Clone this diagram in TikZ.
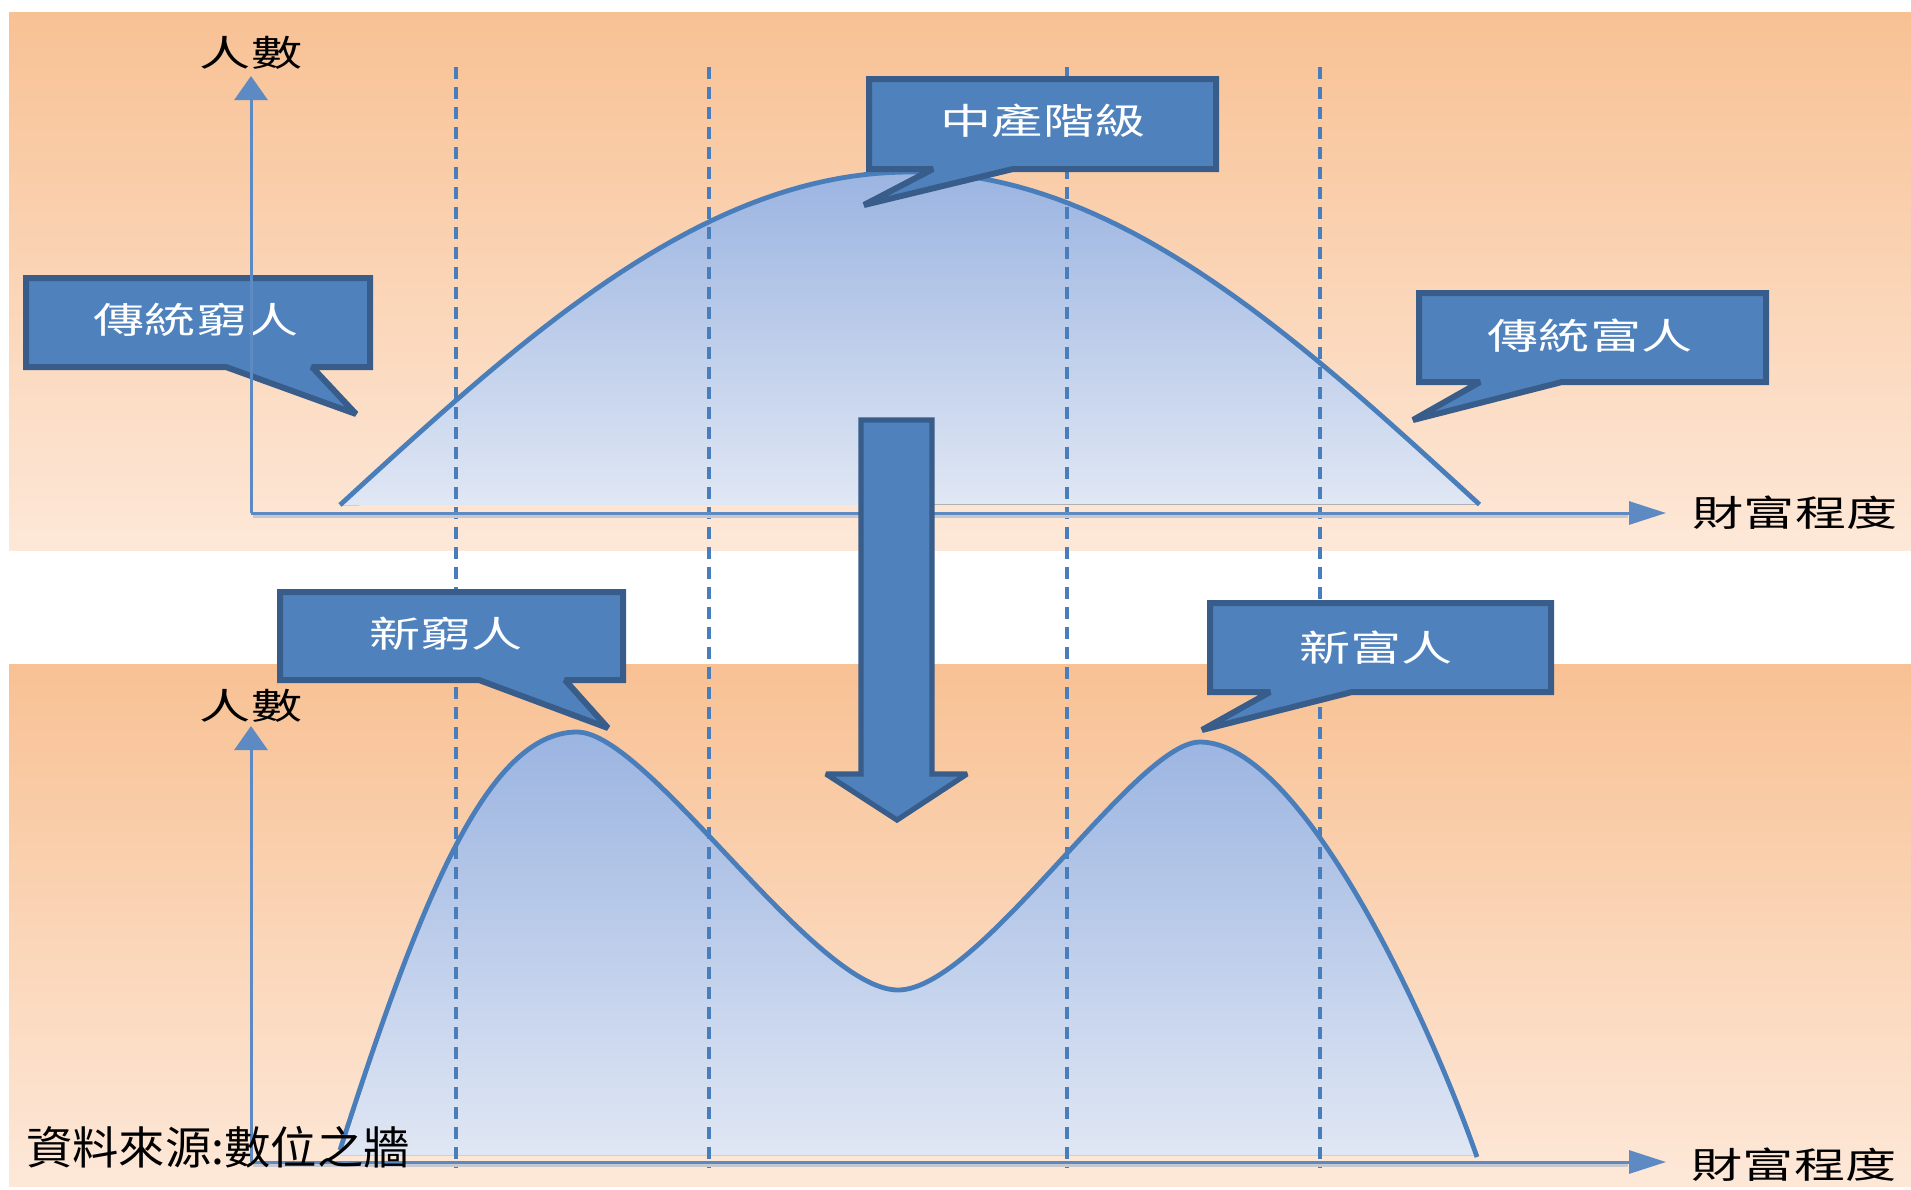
\documentclass[tikz,border=0pt]{standalone}
\usepackage{graphicx}
\usepackage{fontspec}
\newfontfamily\cjk{Noto Sans CJK TC}
\usetikzlibrary{arrows.meta}
\definecolor{bluefill}{HTML}{4F81BD}
\definecolor{blueborder}{HTML}{385D8A}
\definecolor{curveblue}{HTML}{4A7EBB}
\definecolor{axisblue}{HTML}{5E8AC3}
\definecolor{shadowgrey}{HTML}{C9C7CE}
\definecolor{bgtop}{HTML}{F8C194}
\definecolor{bgbot}{HTML}{FDE8D8}
\definecolor{filltop}{HTML}{9BB4E1}
\definecolor{fillbot}{HTML}{E0E7F4}
\begin{document}
\begin{tikzpicture}[x=0.5pt,y=-0.5pt,
  panel/.style={top color=bgtop,bottom color=bgbot,draw=none},
  bellfill/.style={top color=filltop,bottom color=fillbot,draw=none},
  bellline/.style={draw=curveblue,line width=2.4pt,line join=round},
  guide/.style={draw=curveblue,line width=1.7pt,dash pattern=on 6pt off 4pt},
  callout/.style={fill=bluefill,draw=blueborder,line width=3pt,line join=miter,miter limit=2},
  bigarrow/.style={fill=bluefill,draw=blueborder,line width=2.6pt,line join=miter,miter limit=2},
  ctext/.style={text=white,font=\cjk\fontsize{18pt}{18pt}\selectfont,inner sep=0pt},
  atext/.style={text=black,font=\cjk\fontsize{18pt}{18pt}\selectfont,inner sep=0pt},
  srctext/.style={text=black,font=\cjk\fontsize{22.5pt}{22.5pt}\selectfont,inner sep=0pt},
  axisline/.style={draw=axisblue,line width=1.5pt},
  axisshadow/.style={draw=shadowgrey,line width=1.5pt},
  yarrow/.style={-{Triangle[length=12pt,width=16.5pt]}},
  xarrow/.style={-{Triangle[length=18.5pt,width=11.5pt]}}
]
% canvas
\fill[white] (0,0) rectangle (1911,1189);
\useasboundingbox (0,0) rectangle (1911,1189);
% panels
\fill[panel] (9,12) rectangle (1911,550);
\fill[panel] (9,664) rectangle (1911,1186);

% top bell curve
\fill[bellfill] plot[domain=-1:1,samples=90] ({910+570*\x},{505-333*cos(90*\x)}) -- cycle;
\draw[bellline] plot[domain=-1:1,samples=90] ({910+570*\x},{505-333*cos(90*\x)});

% bottom two-peak curve
\def\lowcurve{(340,1150) .. controls (420,901) and (487,732) .. (577,732) .. controls (648,732) and (814,990) .. (898,990) .. controls (980,990) and (1135,742) .. (1200,742) .. controls (1300,742) and (1427,1014) .. (1477,1157)}
\fill[bellfill] \lowcurve -- (1477,1155) -- (340,1155) -- cycle;
\draw[bellline] \lowcurve;

% dashed guide lines
\coordinate (g1t) at (456,67);  \coordinate (g1b) at (456,1168);
\coordinate (g2t) at (709,67);  \coordinate (g2b) at (709,1168);
\coordinate (g3t) at (1067,67); \coordinate (g3b) at (1067,1168);
\coordinate (g4t) at (1320,67); \coordinate (g4b) at (1320,1168);
\draw[guide] (g1t) -- (g1b);
\draw[guide] (g2t) -- (g2b);
\draw[guide] (g3t) -- (g3b);
\draw[guide] (g4t) -- (g4b);

% callouts
\draw[callout] (26,278) -- (370,278) -- (370,367) -- (312,367) -- (356,414) -- (226,367) -- (26,367) -- cycle;
\node[ctext] (poorold) at (196,320) {\scalebox{1.42}[1]{傳統窮人}};
\draw[callout] (869,79) -- (1216,79) -- (1216,169) -- (1013,169) -- (864,205) -- (933,169) -- (869,169) -- cycle;
\node[ctext] (middle) at (1043,121) {\scalebox{1.42}[1]{中產階級}};
\draw[callout] (1419,293) -- (1766,293) -- (1766,382) -- (1562,382) -- (1413,420) -- (1480,382) -- (1419,382) -- cycle;
\node[ctext] (richold) at (1590,336) {\scalebox{1.42}[1]{傳統富人}};
\draw[callout] (280,592) -- (623,592) -- (623,680) -- (565,680) -- (608,728) -- (479,680) -- (280,680) -- cycle;
\node[ctext] (poornew) at (446,634) {\scalebox{1.42}[1]{新窮人}};
\draw[callout] (1210,603) -- (1551,603) -- (1551,692) -- (1352,692) -- (1202,730) -- (1270,692) -- (1210,692) -- cycle;
\node[ctext] (richnew) at (1376,648) {\scalebox{1.42}[1]{新富人}};

% axes
\coordinate (o1) at (251,513); \coordinate (y1) at (251,76); \coordinate (x1) at (1666,513);
\coordinate (o1s) at (253,516); \coordinate (x1s) at (1628,516);
\coordinate (o2) at (251,1162); \coordinate (y2) at (251,726); \coordinate (x2) at (1666,1162);
\coordinate (o2s) at (253,1165); \coordinate (x2s) at (1628,1165);
\draw[axisshadow] (o1s) -- (x1s);
\draw[axisshadow] (o2s) -- (x2s);
\draw[axisline,yarrow] (o1) -- (y1);
\draw[axisline,xarrow] (o1) -- (x1);
\draw[axisline,yarrow] (o2) -- (y2);
\draw[axisline,xarrow] (o2) -- (x2);

% axis labels
\node[atext] (ylab1) at (251,53) {\scalebox{1.42}[1]{人數}};
\node[atext] (xlab1) at (1795,513) {\scalebox{1.42}[1]{財富程度}};
\node[atext] (ylab2) at (251,706) {\scalebox{1.42}[1]{人數}};
\node[atext] (xlab2) at (1794,1165) {\scalebox{1.42}[1]{財富程度}};

% big down arrow
\draw[bigarrow] (861,420) -- (932,420) -- (932,774) -- (967,774) -- (897,820) -- (826,774) -- (861,774) -- cycle;

% source
\node[srctext] (src) at (218,1147) {\scalebox{1.03}[1]{資料來源:數位之牆}};
\end{tikzpicture}
\end{document}
